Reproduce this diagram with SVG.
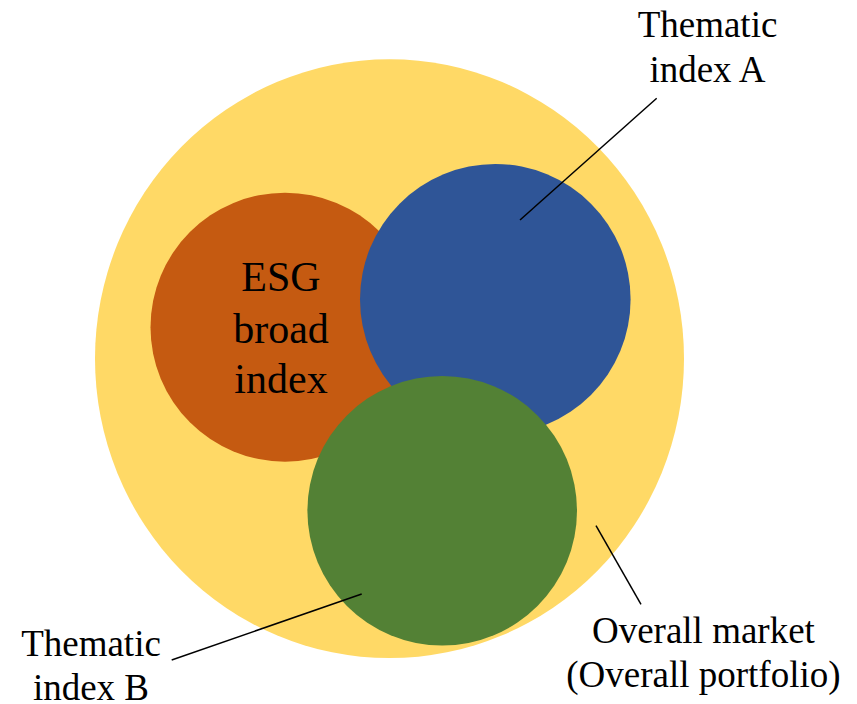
<svg xmlns="http://www.w3.org/2000/svg" width="857" height="704" viewBox="0 0 857 704">
<style>
.lbl{font-family:"Liberation Serif","Times New Roman",serif;font-size:37px;fill:#000;text-anchor:middle}
.esg{font-family:"Liberation Serif","Times New Roman",serif;font-size:42px;fill:#000;text-anchor:middle}
.conn line{stroke:#000;stroke-width:1.5}
</style>
<rect width="857" height="704" fill="#fff"/>
<g id="overall-market">
<ellipse cx="389.5" cy="358.7" rx="294.5" ry="299.4" fill="#FFD966"/>
</g>
<g id="esg-broad-index">
<circle cx="285" cy="327.2" r="134.5" fill="#C55A11"/>
<text class="esg" x="281" y="290.7">ESG</text>
<text class="esg" x="281" y="342.7">broad</text>
<text class="esg" x="281" y="393">index</text>
</g>
<g id="thematic-index-a">
<circle cx="495.3" cy="299.3" r="135.3" fill="#2F5597"/>
</g>
<g id="thematic-index-b">
<circle cx="442.2" cy="510.7" r="134.8" fill="#538135"/>
</g>
<g class="conn" id="connectors">
<line x1="656.7" y1="98.3" x2="520" y2="220"/>
<line x1="171.7" y1="660" x2="361.7" y2="594"/>
<line x1="596" y1="525.7" x2="641" y2="604.3"/>
</g>
<g id="label-a">
<text class="lbl" x="707.5" y="36.7">Thematic</text>
<text class="lbl" x="707.5" y="81.7">index A</text>
</g>
<g id="label-b">
<text class="lbl" x="91" y="656">Thematic</text>
<text class="lbl" x="91" y="699.5">index B</text>
</g>
<g id="label-market">
<text class="lbl" x="703.4" y="643.3">Overall market</text>
<text class="lbl" x="703.4" y="686.7">(Overall portfolio)</text>
</g>
</svg>
